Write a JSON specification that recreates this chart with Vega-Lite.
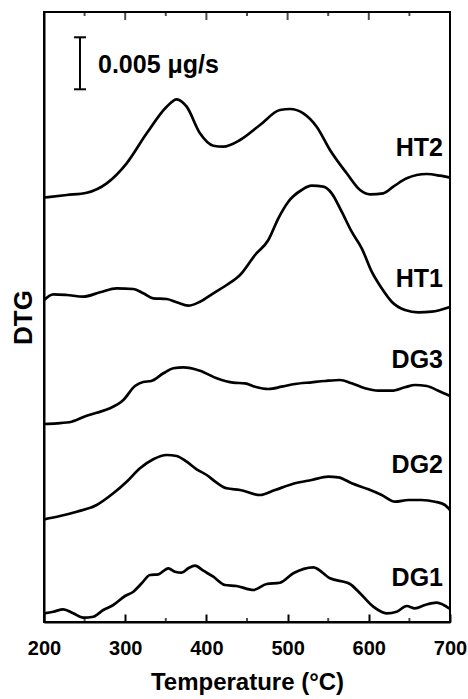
{
  "$schema": "https://vega.github.io/schema/vega-lite/v6.json",
  "width": 406,
  "height": 610,
  "autosize": {"type": "none"},
  "padding": {"left": 44, "top": 12, "right": 18, "bottom": 77},
  "config": {"view": {"stroke": "black", "strokeWidth": 2}, "axis": {"domainColor": "black", "tickColor": "black", "domainWidth": 2, "tickWidth": 2}},
  "datasets": {
    "curves": [
      {"s": "HT2", "T": 200, "v": 424.5}, {"s": "HT2", "T": 228, "v": 427}, {"s": "HT2", "T": 252.6, "v": 429.3}, {"s": "HT2", "T": 277.2, "v": 438.7}, {"s": "HT2", "T": 301.8, "v": 458.7}, {"s": "HT2", "T": 326.5, "v": 488.7}, {"s": "HT2", "T": 351.1, "v": 515.3}, {"s": "HT2", "T": 363.4, "v": 522.7}, {"s": "HT2", "T": 375.7, "v": 515.3}, {"s": "HT2", "T": 392.1, "v": 488.7}, {"s": "HT2", "T": 408.5, "v": 476.3}, {"s": "HT2", "T": 420.8, "v": 475.3}, {"s": "HT2", "T": 441.4, "v": 482}, {"s": "HT2", "T": 466, "v": 497}, {"s": "HT2", "T": 490.6, "v": 512}, {"s": "HT2", "T": 503, "v": 513}, {"s": "HT2", "T": 519.3, "v": 508.7}, {"s": "HT2", "T": 535.8, "v": 495.3}, {"s": "HT2", "T": 552.2, "v": 472}, {"s": "HT2", "T": 572.8, "v": 448.7}, {"s": "HT2", "T": 589.2, "v": 432}, {"s": "HT2", "T": 601.5, "v": 427.7}, {"s": "HT2", "T": 617.9, "v": 428.7}, {"s": "HT2", "T": 630.2, "v": 435.3}, {"s": "HT2", "T": 646.7, "v": 443.7}, {"s": "HT2", "T": 671.3, "v": 448}, {"s": "HT2", "T": 687.7, "v": 446.3}, {"s": "HT2", "T": 700, "v": 444.3},
      {"s": "HT1", "T": 200, "v": 322}, {"s": "HT1", "T": 211.5, "v": 327.7}, {"s": "HT1", "T": 228, "v": 327}, {"s": "HT1", "T": 248.4, "v": 325.3}, {"s": "HT1", "T": 269, "v": 329.7}, {"s": "HT1", "T": 289.5, "v": 333.7}, {"s": "HT1", "T": 310, "v": 333}, {"s": "HT1", "T": 322.3, "v": 328.7}, {"s": "HT1", "T": 334.6, "v": 323.7}, {"s": "HT1", "T": 351.1, "v": 323}, {"s": "HT1", "T": 363.4, "v": 319.7}, {"s": "HT1", "T": 377.7, "v": 316.3}, {"s": "HT1", "T": 392.1, "v": 320.3}, {"s": "HT1", "T": 408.5, "v": 328.7}, {"s": "HT1", "T": 425, "v": 337}, {"s": "HT1", "T": 441.4, "v": 347}, {"s": "HT1", "T": 459.9, "v": 367}, {"s": "HT1", "T": 476.3, "v": 382}, {"s": "HT1", "T": 488.6, "v": 403.7}, {"s": "HT1", "T": 500.9, "v": 420.3}, {"s": "HT1", "T": 517.3, "v": 432}, {"s": "HT1", "T": 529.6, "v": 436.3}, {"s": "HT1", "T": 544, "v": 435.3}, {"s": "HT1", "T": 554.3, "v": 428.7}, {"s": "HT1", "T": 566.6, "v": 410.3}, {"s": "HT1", "T": 578.9, "v": 390.3}, {"s": "HT1", "T": 591.3, "v": 373.7}, {"s": "HT1", "T": 603.6, "v": 350.3}, {"s": "HT1", "T": 615.9, "v": 333.7}, {"s": "HT1", "T": 628.2, "v": 320.3}, {"s": "HT1", "T": 644.6, "v": 312}, {"s": "HT1", "T": 661, "v": 309.7}, {"s": "HT1", "T": 677.5, "v": 310.3}, {"s": "HT1", "T": 700, "v": 315},
      {"s": "DG3", "T": 200, "v": 198}, {"s": "DG3", "T": 215.6, "v": 198.7}, {"s": "DG3", "T": 234, "v": 200.3}, {"s": "DG3", "T": 252.6, "v": 206.3}, {"s": "DG3", "T": 264.9, "v": 209.3}, {"s": "DG3", "T": 281.3, "v": 213.7}, {"s": "DG3", "T": 297.7, "v": 222}, {"s": "DG3", "T": 312, "v": 236}, {"s": "DG3", "T": 322, "v": 240}, {"s": "DG3", "T": 332, "v": 241}, {"s": "DG3", "T": 347, "v": 248.7}, {"s": "DG3", "T": 359.3, "v": 253.7}, {"s": "DG3", "T": 371.6, "v": 254.7}, {"s": "DG3", "T": 392.1, "v": 251.3}, {"s": "DG3", "T": 412.7, "v": 243.7}, {"s": "DG3", "T": 433.1, "v": 239.3}, {"s": "DG3", "T": 447.5, "v": 238.7}, {"s": "DG3", "T": 459.9, "v": 235.3}, {"s": "DG3", "T": 476.3, "v": 233}, {"s": "DG3", "T": 492.7, "v": 235.3}, {"s": "DG3", "T": 509.1, "v": 238}, {"s": "DG3", "T": 529.6, "v": 239.7}, {"s": "DG3", "T": 546.1, "v": 241}, {"s": "DG3", "T": 564.5, "v": 242}, {"s": "DG3", "T": 579, "v": 238.7}, {"s": "DG3", "T": 595.3, "v": 233.7}, {"s": "DG3", "T": 611.7, "v": 231.3}, {"s": "DG3", "T": 628.2, "v": 231.3}, {"s": "DG3", "T": 644.6, "v": 234.7}, {"s": "DG3", "T": 656.9, "v": 237}, {"s": "DG3", "T": 671.3, "v": 236}, {"s": "DG3", "T": 685.6, "v": 231.3}, {"s": "DG3", "T": 700, "v": 226},
      {"s": "DG2", "T": 200, "v": 102.7}, {"s": "DG2", "T": 219.7, "v": 106}, {"s": "DG2", "T": 240.3, "v": 110.3}, {"s": "DG2", "T": 264.9, "v": 117}, {"s": "DG2", "T": 285.3, "v": 128.7}, {"s": "DG2", "T": 301.8, "v": 140.3}, {"s": "DG2", "T": 318.2, "v": 153.7}, {"s": "DG2", "T": 334.6, "v": 162.7}, {"s": "DG2", "T": 351.1, "v": 167}, {"s": "DG2", "T": 363.4, "v": 166}, {"s": "DG2", "T": 375.7, "v": 160.3}, {"s": "DG2", "T": 388, "v": 152.7}, {"s": "DG2", "T": 400.4, "v": 147}, {"s": "DG2", "T": 412.7, "v": 139.3}, {"s": "DG2", "T": 425, "v": 133.7}, {"s": "DG2", "T": 441.4, "v": 132}, {"s": "DG2", "T": 466, "v": 127}, {"s": "DG2", "T": 484.5, "v": 132}, {"s": "DG2", "T": 509.1, "v": 138.7}, {"s": "DG2", "T": 529.6, "v": 142}, {"s": "DG2", "T": 550.1, "v": 145.3}, {"s": "DG2", "T": 562.4, "v": 144.7}, {"s": "DG2", "T": 579, "v": 138.7}, {"s": "DG2", "T": 599.5, "v": 132.7}, {"s": "DG2", "T": 615.9, "v": 127}, {"s": "DG2", "T": 632.3, "v": 120.3}, {"s": "DG2", "T": 648.7, "v": 122}, {"s": "DG2", "T": 665.1, "v": 122}, {"s": "DG2", "T": 681.5, "v": 120.3}, {"s": "DG2", "T": 693.8, "v": 117}, {"s": "DG2", "T": 700, "v": 112},
      {"s": "DG1", "T": 200, "v": 8.7}, {"s": "DG1", "T": 211.5, "v": 10.3}, {"s": "DG1", "T": 223.8, "v": 12.7}, {"s": "DG1", "T": 236.1, "v": 8.7}, {"s": "DG1", "T": 248.4, "v": 4.3}, {"s": "DG1", "T": 260.7, "v": 5.3}, {"s": "DG1", "T": 273, "v": 12}, {"s": "DG1", "T": 285.3, "v": 17}, {"s": "DG1", "T": 299.8, "v": 26}, {"s": "DG1", "T": 310, "v": 30.3}, {"s": "DG1", "T": 320.3, "v": 38.7}, {"s": "DG1", "T": 330.5, "v": 47}, {"s": "DG1", "T": 340.8, "v": 47.7}, {"s": "DG1", "T": 353.1, "v": 53.7}, {"s": "DG1", "T": 361.3, "v": 50.3}, {"s": "DG1", "T": 369.6, "v": 49.3}, {"s": "DG1", "T": 377.7, "v": 53.7}, {"s": "DG1", "T": 386, "v": 56.3}, {"s": "DG1", "T": 396.2, "v": 51.3}, {"s": "DG1", "T": 408.5, "v": 45.3}, {"s": "DG1", "T": 422.9, "v": 37}, {"s": "DG1", "T": 437.3, "v": 36}, {"s": "DG1", "T": 457.8, "v": 32}, {"s": "DG1", "T": 474.2, "v": 38}, {"s": "DG1", "T": 490.6, "v": 39.3}, {"s": "DG1", "T": 507, "v": 48.7}, {"s": "DG1", "T": 531.7, "v": 54.7}, {"s": "DG1", "T": 552.2, "v": 43.7}, {"s": "DG1", "T": 576.8, "v": 38}, {"s": "DG1", "T": 589.2, "v": 28.7}, {"s": "DG1", "T": 605.5, "v": 15.3}, {"s": "DG1", "T": 622, "v": 8.7}, {"s": "DG1", "T": 634.3, "v": 10.3}, {"s": "DG1", "T": 646.7, "v": 16}, {"s": "DG1", "T": 656.9, "v": 13.7}, {"s": "DG1", "T": 669.2, "v": 17}, {"s": "DG1", "T": 683.6, "v": 19.3}, {"s": "DG1", "T": 700, "v": 13}
    ],
    "labels": [
      {"s": "HT2", "T": 691.4, "v": 466},
      {"s": "HT1", "T": 691.4, "v": 335},
      {"s": "DG3", "T": 691.4, "v": 254},
      {"s": "DG2", "T": 691.4, "v": 149},
      {"s": "DG1", "T": 691.4, "v": 36}
    ],
    "bar": [{"T": 244.3, "v": 532.7, "v2": 584.7}],
    "caps": [{"T": 236.9, "T2": 251.7, "v": 532.7}, {"T": 236.9, "T2": 251.7, "v": 584.7}],
    "scaletext": [{"T": 266.5, "v": 548.7, "text": "0.005 μg/s"}],
    "ticks": [
      {"T": 250, "v": 0, "kind": "minor"}, {"T": 350, "v": 0, "kind": "minor"}, {"T": 450, "v": 0, "kind": "minor"}, {"T": 550, "v": 0, "kind": "minor"}, {"T": 650, "v": 0, "kind": "minor"},
      {"T": 250, "v": 610, "kind": "minor"}, {"T": 300, "v": 610, "kind": "major"}, {"T": 350, "v": 610, "kind": "minor"}, {"T": 400, "v": 610, "kind": "major"}, {"T": 450, "v": 610, "kind": "minor"}, {"T": 500, "v": 610, "kind": "major"}, {"T": 550, "v": 610, "kind": "minor"}, {"T": 600, "v": 610, "kind": "major"}, {"T": 650, "v": 610, "kind": "minor"}
    ]
  },
  "layer": [
    {
      "data": {"name": "curves"},
      "mark": {"type": "line", "interpolate": "monotone", "color": "black", "strokeWidth": 2.7},
      "encoding": {
        "x": {
          "field": "T", "type": "quantitative",
          "scale": {"domain": [200, 700], "nice": false, "zero": false},
          "axis": {
            "values": [200, 300, 400, 500, 600, 700],
            "domain": true, "grid": false, "ticks": true, "tickSize": -8, "zindex": 1,
            "labelFont": "Liberation Sans", "labelFontWeight": "bold", "labelFontSize": 20, "labelColor": "black",
            "labelPadding": 24, "labelFlush": false, "labelOverlap": false,
            "title": "Temperature (°C)", "titleFont": "Liberation Sans", "titleFontWeight": "bold", "titleFontSize": 24, "titleColor": "black",
            "titlePadding": 12
          }
        },
        "y": {
          "field": "v", "type": "quantitative",
          "scale": {"domain": [0, 610], "nice": false, "zero": false},
          "axis": {
            "domain": true, "ticks": false, "labels": false, "grid": false, "zindex": 1,
            "title": "DTG", "titleFont": "Liberation Sans", "titleFontWeight": "bold", "titleFontSize": 26, "titleColor": "black",
            "titlePadding": 8
          }
        },
        "detail": {"field": "s"}
      }
    },
    {
      "data": {"name": "ticks"},
      "transform": [{"filter": "datum.kind == 'minor' && datum.v == 0"}],
      "mark": {"type": "tick", "orient": "vertical", "color": "black", "thickness": 2, "size": 4, "yOffset": -2},
      "encoding": {"x": {"field": "T", "type": "quantitative"}, "y": {"field": "v", "type": "quantitative"}}
    },
    {
      "data": {"name": "ticks"},
      "transform": [{"filter": "datum.kind == 'major' && datum.v == 610"}],
      "mark": {"type": "tick", "orient": "vertical", "color": "black", "thickness": 2, "size": 8, "yOffset": 4},
      "encoding": {"x": {"field": "T", "type": "quantitative"}, "y": {"field": "v", "type": "quantitative"}}
    },
    {
      "data": {"name": "ticks"},
      "transform": [{"filter": "datum.kind == 'minor' && datum.v == 610"}],
      "mark": {"type": "tick", "orient": "vertical", "color": "black", "thickness": 2, "size": 4, "yOffset": 2},
      "encoding": {"x": {"field": "T", "type": "quantitative"}, "y": {"field": "v", "type": "quantitative"}}
    },
    {
      "data": {"name": "bar"},
      "mark": {"type": "rule", "color": "black", "strokeWidth": 2},
      "encoding": {
        "x": {"field": "T", "type": "quantitative"},
        "y": {"field": "v", "type": "quantitative"},
        "y2": {"field": "v2"}
      }
    },
    {
      "data": {"name": "caps"},
      "mark": {"type": "rule", "color": "black", "strokeWidth": 2},
      "encoding": {
        "x": {"field": "T", "type": "quantitative"},
        "x2": {"field": "T2"},
        "y": {"field": "v", "type": "quantitative"}
      }
    },
    {
      "data": {"name": "scaletext"},
      "mark": {"type": "text", "align": "left", "baseline": "alphabetic", "font": "Liberation Sans", "fontWeight": "bold", "fontSize": 25, "color": "black"},
      "encoding": {
        "x": {"field": "T", "type": "quantitative"},
        "y": {"field": "v", "type": "quantitative"},
        "text": {"field": "text"}
      }
    },
    {
      "data": {"name": "labels"},
      "mark": {"type": "text", "align": "right", "baseline": "alphabetic", "font": "Liberation Sans", "fontWeight": "bold", "fontSize": 25, "color": "black"},
      "encoding": {
        "x": {"field": "T", "type": "quantitative"},
        "y": {"field": "v", "type": "quantitative"},
        "text": {"field": "s"}
      }
    }
  ]
}
